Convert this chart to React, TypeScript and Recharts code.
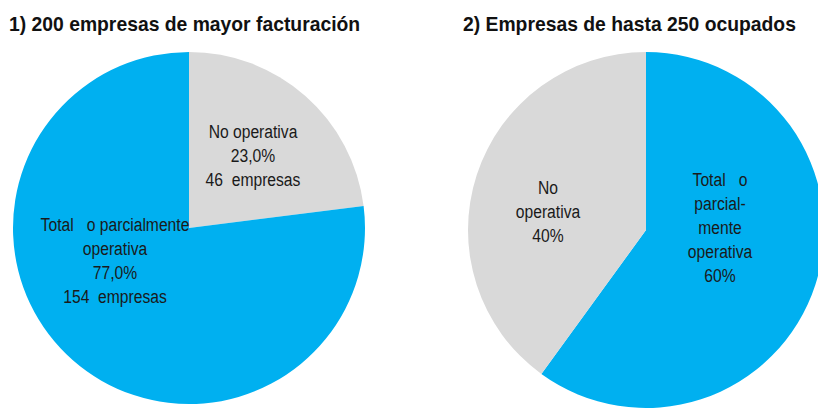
import React from "react";
import { PieChart, Pie, Cell } from "recharts";

const titles = ["1) 200 empresas de mayor facturación", "2) Empresas de hasta 250 ocupados"];

const catNo = "No operativa";
const catSi = "Total o parcialmente operativa";

// Pie 1: starts at 12 o'clock with "No operativa"
const grandesCategories = [catNo, catSi];
const grandesValues = [23.0, 77.0];
const grandesEmpresas = [46, 154];
const grandesLabels = [
  ["No operativa", "23,0%", "46  empresas"],
  ["Total   o parcialmente", "operativa", "77,0%", "154  empresas"],
];

// Pie 2: starts at 12 o'clock with "Total o parcialmente operativa"
const pymesCategories = [catSi, catNo];
const pymesValues = [60, 40];
const pymesLabels = [
  ["Total   o", "parcial-", "mente", "operativa", "60%"],
  ["No", "operativa", "40%"],
];

const COLOR_BY_CAT: Record<string, string> = { [catNo]: "#D9D9D9", [catSi]: "#00B0F0" };
const FONT = "'Liberation Sans', Arial, sans-serif";

const grandesData = grandesCategories.map((c, i) => ({ name: c, value: grandesValues[i], empresas: grandesEmpresas[i], lines: grandesLabels[i] }));
const pymesData = pymesCategories.map((c, i) => ({ name: c, value: pymesValues[i], lines: pymesLabels[i] }));

function makeLabel(offsets: number[][], fontSize: number, lineH: number, sx: number) {
  return (props: any) => {
    const { cx, cy, index, payload } = props;
    const lines: string[] = (payload && payload.lines) || props.lines || [];
    const [dx, dy] = offsets[index];
    const x = cx + dx;
    const yc = cy + dy;
    const y0 = yc - ((lines.length - 1) * lineH) / 2;
    return (
      <g transform={`translate(${x},0) scale(${sx},1) translate(${-x},0)`}>
        <text x={x} y={y0} textAnchor="middle" fill="#1a1a1a" fontFamily={FONT} fontSize={fontSize} style={{ whiteSpace: "pre" }}>
          {lines.map((l, i) => (
            <tspan key={i} x={x} y={y0 + i * lineH} dy="0.35em">{l}</tspan>
          ))}
        </text>
      </g>
    );
  };
}

const leftOffsets = [[64, -72], [-74, 33]];
const rightOffsets = [[74, -2], [-98, -18]];

const titleStyle: React.CSSProperties = {
  position: "absolute",
  top: 12,
  fontFamily: FONT,
  fontWeight: "bold",
  fontSize: 21,
  color: "#111",
  whiteSpace: "pre",
  zIndex: 2,
  transform: "scaleX(0.92)",
  transformOrigin: "left top",
};

export default function App() {
  return (
    <div style={{ position: "absolute", left: 0, top: 0, width: 818, height: 409, background: "#fff", overflow: "hidden" }}>
      <div style={{ ...titleStyle, left: 9 }}>{titles[0]}</div>
      <div style={{ ...titleStyle, left: 463 }}>{titles[1]}</div>
      <PieChart width={818} height={409} margin={{ top: 0, right: 0, bottom: 0, left: 0 }} style={{ position: "absolute", left: 0, top: 0 }}>
        <Pie
          data={grandesData}
          dataKey="value"
          cx={189}
          cy={228}
          outerRadius={176}
          startAngle={90}
          endAngle={-270}
          stroke="none"
          isAnimationActive={false}
          labelLine={false}
          label={makeLabel(leftOffsets, 18, 24, 0.87)}
        >
          {grandesData.map((d, i) => (
            <Cell key={i} fill={COLOR_BY_CAT[d.name]} />
          ))}
        </Pie>
        <Pie
          data={pymesData}
          dataKey="value"
          cx={646}
          cy={230}
          outerRadius={178}
          startAngle={90}
          endAngle={-270}
          stroke="none"
          isAnimationActive={false}
          labelLine={false}
          label={makeLabel(rightOffsets, 18, 24, 0.87)}
        >
          {pymesData.map((d, i) => (
            <Cell key={i} fill={COLOR_BY_CAT[d.name]} />
          ))}
        </Pie>
      </PieChart>
    </div>
  );
}
